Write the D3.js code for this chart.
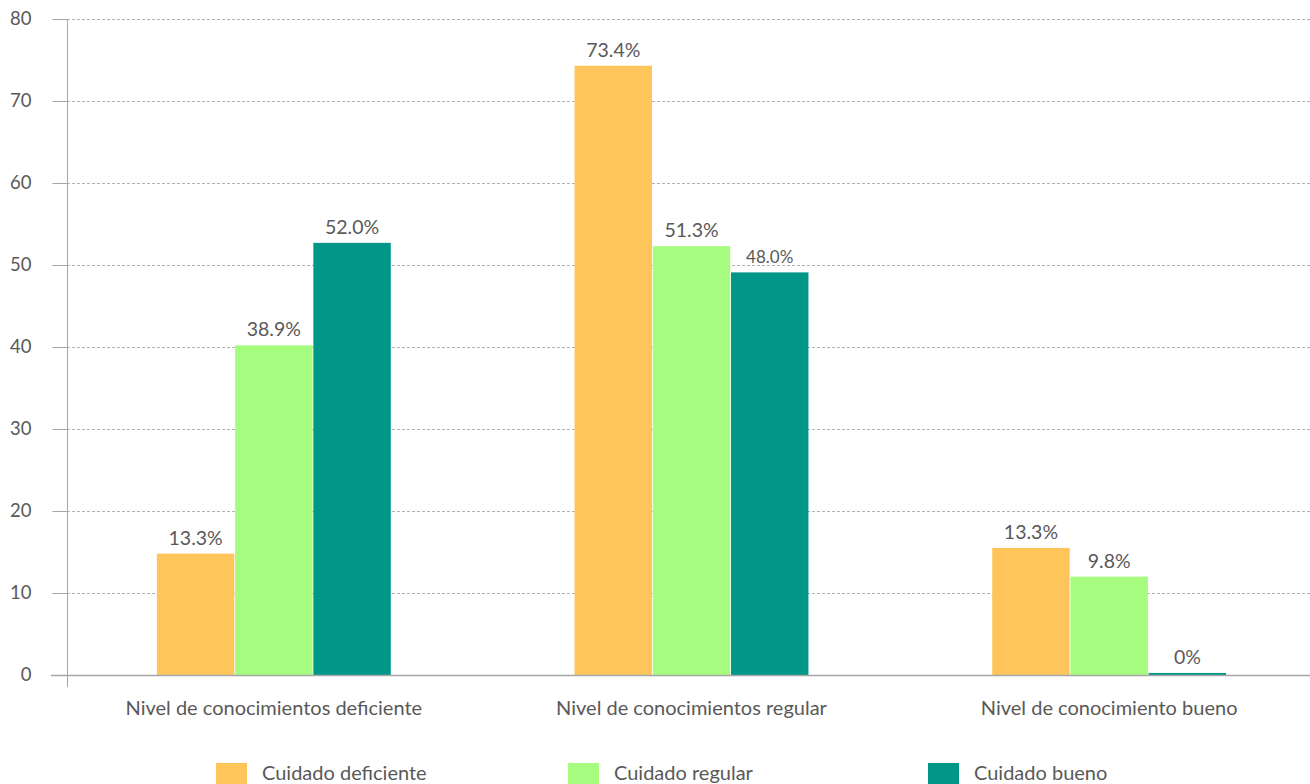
<!DOCTYPE html>
<html>
<head>
<meta charset="utf-8">
<script src="https://cdn.jsdelivr.net/npm/d3@7"></script>
<style>
  body { margin: 0; background: #fff; overflow: hidden; }
  text { font-family: Lato, "Open Sans", sans-serif; fill: #595959; }
</style>
</head>
<body>
<div id="chart"></div>
<script>
// data
var categories = ["Nivel de conocimientos deficiente", "Nivel de conocimientos regular", "Nivel de conocimiento bueno"];
var seriesNames = ["Cuidado deficiente", "Cuidado regular", "Cuidado bueno"];
// bar heights as drawn
var deficiente = [14.8, 74.3, 15.5];
var regular = [40.2, 52.3, 12.0];
var bueno = [52.7, 49.1, 0.25];
// label texts shown above the bars
var deficienteLabels = ["13.3%", "73.4%", "13.3%"];
var regularLabels = ["38.9%", "51.3%", "9.8%"];
var buenoLabels = ["52.0%", "48.0%", "0%"];
var yTicks = [0, 10, 20, 30, 40, 50, 60, 70, 80];
var colors = ["#FEC55A", "#A6FC7E", "#009688"];

var w = 1310, h = 784;
var plotLeft = 67, plotRight = 1318, plotTop = 19, plotBottom = 675;

var series = [
  {name: seriesNames[0], values: deficiente, labels: deficienteLabels},
  {name: seriesNames[1], values: regular, labels: regularLabels},
  {name: seriesNames[2], values: bueno, labels: buenoLabels}
];

var svg = d3.select('#chart').append('svg')
    .attr('width', w)
    .attr('height', h);

var xscale = d3.scaleBand()
    .domain(categories)
    .range([plotLeft - 2, plotRight])
    .paddingInner(0.44)
    .paddingOuter(0.22);

var xinner = d3.scaleBand()
    .domain(seriesNames)
    .range([0, xscale.bandwidth()])
    .paddingInner(0.01);

var yscale = d3.scaleLinear()
    .domain([0, 80])
    .range([plotBottom, plotTop]);

// gridlines
svg.append('g')
    .selectAll('line')
    .data(yTicks.filter(d => d > 0))
    .enter()
    .append('line')
      .attr('x1', plotLeft)
      .attr('x2', w)
      .attr('y1', d => Math.round(yscale(d)) + 0.5)
      .attr('y2', d => Math.round(yscale(d)) + 0.5)
      .attr('stroke', '#b3b3b3')
      .attr('stroke-dasharray', '3,2');

// bars
series.forEach(function(s, si) {
  var g = svg.append('g').attr('fill', colors[si]);
  g.selectAll('rect')
    .data(s.values)
    .enter()
    .append('rect')
      .attr('x', (d, i) => xscale(categories[i]) + xinner(s.name))
      .attr('y', d => yscale(d))
      .attr('width', xinner.bandwidth())
      .attr('height', d => yscale(0) - yscale(d));
  svg.append('g')
    .selectAll('text')
    .data(s.values)
    .enter()
    .append('text')
      .attr('x', (d, i) => xscale(categories[i]) + xinner(s.name) + xinner.bandwidth() / 2)
      .attr('y', d => yscale(d) - 9)
      .attr('text-anchor', 'middle')
      .style('font-size', (d, i) => (s.labels[i] == "48.0%" ? '17px' : '19.5px'))
      .text((d, i) => s.labels[i]);
});

// y axis
var yaxis = d3.axisLeft(yscale)
    .tickValues(yTicks)
    .tickSize(15)
    .tickPadding(21)
    .tickFormat(d3.format('d'));
var ya = svg.append('g')
    .attr('class', 'axis y')
    .attr('transform', 'translate(' + (plotLeft + 0.5) + ',0)')
    .call(yaxis);
ya.select('.domain').remove();
ya.selectAll('line').attr('stroke', '#a6a6a6');
ya.selectAll('text').style('font-size', '18.5px').style('fill', '#595959');
ya.append('line')
    .attr('x1', 0).attr('x2', 0)
    .attr('y1', plotTop).attr('y2', plotBottom + 12)
    .attr('stroke', '#a6a6a6');

// baseline
svg.append('line')
    .attr('x1', plotLeft - 16).attr('x2', w)
    .attr('y1', plotBottom + 0.5).attr('y2', plotBottom + 0.5)
    .attr('stroke', '#a6a6a6')
    .attr('stroke-width', 1.5);

// x axis labels
var xaxis = d3.axisBottom(xscale).tickSize(0).tickPadding(26);
var xa = svg.append('g')
    .attr('class', 'axis x')
    .attr('transform', 'translate(0,' + plotBottom + ')')
    .call(xaxis);
xa.select('.domain').remove();
xa.selectAll('text').style('font-size', '20px').style('fill', '#595959');

// legend
var legendX = [216, 568, 928];
var lg = svg.append('g')
    .selectAll('g')
    .data(seriesNames)
    .enter()
    .append('g')
      .attr('transform', (d, i) => 'translate(' + legendX[i] + ',763)');
lg.append('rect')
    .attr('width', 31)
    .attr('height', 22)
    .attr('fill', (d, i) => colors[i]);
lg.append('text')
    .attr('x', 46)
    .attr('y', 17)
    .style('font-size', '20px')
    .text(d => d);
</script>
</body>
</html>
